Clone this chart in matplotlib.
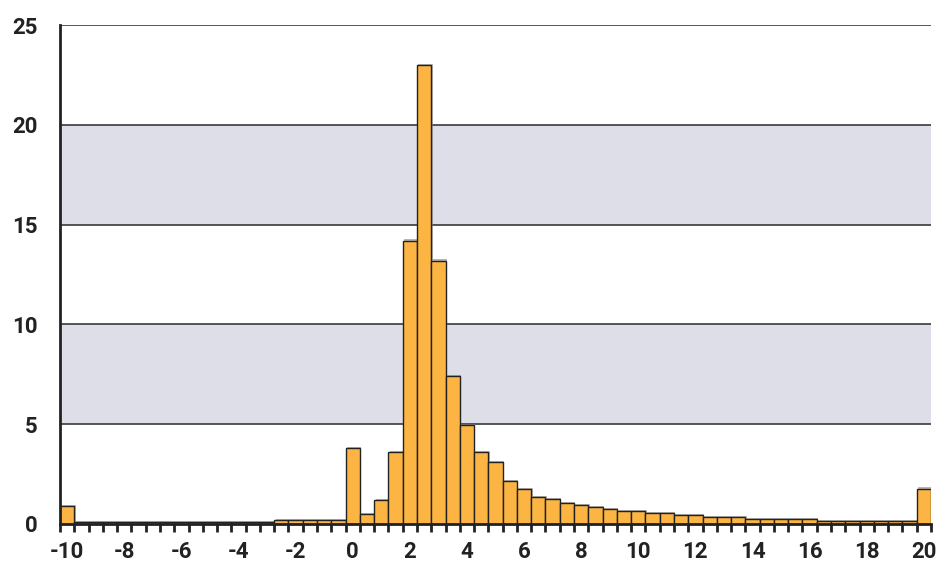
import numpy as np
import matplotlib
matplotlib.use("Agg")
import matplotlib.pyplot as plt
import matplotlib.patheffects as pe

# ---- data ----
categories = np.arange(-10, 20.01, 0.5)   # bin positions (-10 ... 20)
values = (
    [0.9]
    + [0.1] * 14          # -9.5 .. -3.0
    + [0.2] * 5           # -2.5 .. -0.5
    + [3.8, 0.5, 1.2, 3.6, 14.2, 23.0, 13.2, 7.4, 4.95, 3.6, 3.1, 2.15,
       1.75, 1.35, 1.25, 1.03, 0.93, 0.83, 0.73]   # 0.0 .. 9.0
    + [0.63, 0.63, 0.53, 0.53, 0.43, 0.43, 0.33, 0.33, 0.33]  # 9.5 .. 13.5
    + [0.23] * 5          # 14.0 .. 16.0
    + [0.13] * 7          # 16.5 .. 19.5
    + [1.76]              # 20
)
xtick_values = list(range(-10, 21, 2))
ytick_values = [0, 5, 10, 15, 20, 25]
bands = [(5, 10), (15, 20)]

plt.rcParams['font.family'] = ['Roboto', 'DejaVu Sans']

fig = plt.figure(figsize=(9.37, 5.65), dpi=100)
ax = fig.add_axes([60/937, 1-524/565, (931-60)/937, (524-25)/565])

for lo, hi in bands:
    ax.axhspan(lo, hi, color='#DEDEE8', zorder=0, lw=0)
for y in ytick_values[1:]:
    ax.axhline(y, color='#3a3a3a', lw=1.2, zorder=1)

bars = ax.bar(categories, values, width=0.5, color='#FCB443', edgecolor='#222222',
              linewidth=1.0, zorder=3)
for b in bars:
    b.set_path_effects([pe.SimplePatchShadow(offset=(1, 1), shadow_rgbFace='#888888', alpha=0.6),
                        pe.Normal()])

ax.set_xlim(categories[0] - 0.25, categories[-1] + 0.25)
ax.set_ylim(0, 25)

ax.set_xticks(xtick_values)
ax.set_xticklabels([str(v) for v in xtick_values])
ax.set_xticks(np.arange(categories[0] - 0.25, categories[-1] + 0.26, 0.5), minor=True)
ax.tick_params(axis='x', which='major', length=0, pad=12, labelsize=16)
ax.tick_params(axis='x', which='minor', length=6, width=2, color='#222222', direction='out')
ax.set_yticks(ytick_values)
ax.tick_params(axis='y', length=0, pad=16, labelsize=16)
for lbl in ax.get_xticklabels() + ax.get_yticklabels():
    lbl.set_fontweight('bold')
    lbl.set_color('#222222')

for s in ['top', 'right']:
    ax.spines[s].set_visible(False)
for s in ['left', 'bottom']:
    ax.spines[s].set_color('#222222')
    ax.spines[s].set_linewidth(2)
    ax.spines[s].set_zorder(4)

fig.savefig('out.png', dpi=100)
